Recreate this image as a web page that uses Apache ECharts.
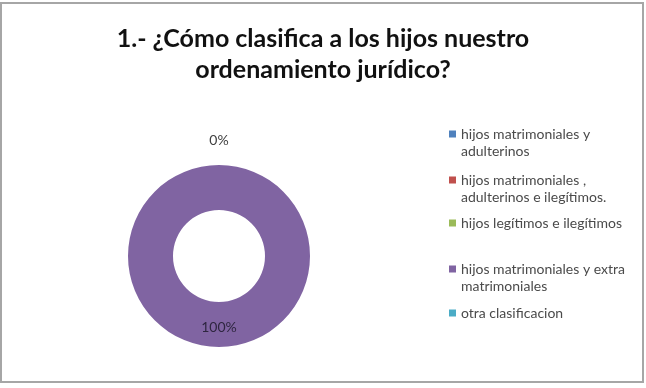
<!DOCTYPE html>
<html><head><meta charset="utf-8">
<script src="https://cdn.jsdelivr.net/npm/echarts@6/dist/echarts.min.js"></script>
<style>html,body{margin:0;padding:0;background:#fff}#c{width:646px;height:388px}</style>
</head><body><div id="c"></div>
<script>
const titleText = "1.- ¿Cómo clasifica a los hijos nuestro\nordenamiento jurídico?";
const categories = [
  "hijos matrimoniales y adulterinos",
  "hijos matrimoniales , adulterinos e ilegítimos.",
  "hijos legítimos e ilegítimos",
  "hijos matrimoniales y extra matrimoniales",
  "otra clasificacion"
];
const legendLabels = [
  "hijos matrimoniales y\nadulterinos",
  "hijos matrimoniales ,\nadulterinos e ilegítimos.",
  "hijos legítimos e ilegítimos",
  "hijos matrimoniales y extra\nmatrimoniales",
  "otra clasificacion"
];
const values = [0, 0, 0, 100, 0];
const colors = ["#4F81BD", "#C0504D", "#9BBB59", "#8064A2", "#4BACC6"];
const legendTops = [134, 180, 223, 269, 313];

const LH = 17;
const twoLineIcon = 'path://M0,5L7,5L7,12L0,12Z M0,0L0.01,0L0,0.01Z M0,34L0.01,34L0,33.99Z';

const chart = echarts.init(document.getElementById('c'));
const legends = categories.map((name, i) => {
  const two = legendLabels[i].indexOf('\n') >= 0;
  return {
    data: [name],
    orient: 'vertical',
    left: 449,
    top: legendTops[i] - 8.5,
    padding: 0,
    itemWidth: 7,
    itemHeight: two ? 34 : 7,
    itemGap: 0,
    icon: two ? twoLineIcon : 'rect',
    selectedMode: false,
    formatter: () => legendLabels[i],
    textStyle: { fontFamily: 'Lato', fontSize: 14, color: '#4a4a4a', lineHeight: LH }
  };
});

chart.setOption({
  animation: false,
  color: colors,
  title: {
    text: titleText,
    left: 'center', top: 18,
    textStyle: { fontFamily: 'Lato', fontWeight: 'bold', fontSize: 25, lineHeight: 31, color: '#111' }
  },
  legend: legends,
  graphic: [{
    type: 'rect', silent: true, z: -1,
    shape: { x: 1, y: 3, width: 642, height: 379 },
    style: { fill: 'none', stroke: '#a6a6a6', lineWidth: 2 }
  }],
  series: [{
    type: 'pie',
    center: [219, 256],
    radius: [46, 91],
    startAngle: 90,
    clockwise: true,
    avoidLabelOverlap: false,
    stillShowZeroSum: true,
    itemStyle: { borderWidth: 0 },
    emphasis: { disabled: true },
    labelLine: { show: false },
    data: categories.map((name, i) => {
      const d = { name: name, value: values[i] };
      if (values[i] > 0) {
        d.label = { show: true, position: 'inside', formatter: '{d}%', fontFamily: 'Lato', fontSize: 14, color: '#2e2640' };
      } else if (i === 0) {
        d.label = { show: true, position: 'inside', formatter: '{d}%', fontFamily: 'Lato', fontSize: 14, color: '#404040', offset: [0, -44] };
      } else {
        d.label = { show: false };
      }
      return d;
    })
  }]
});
</script></body></html>
